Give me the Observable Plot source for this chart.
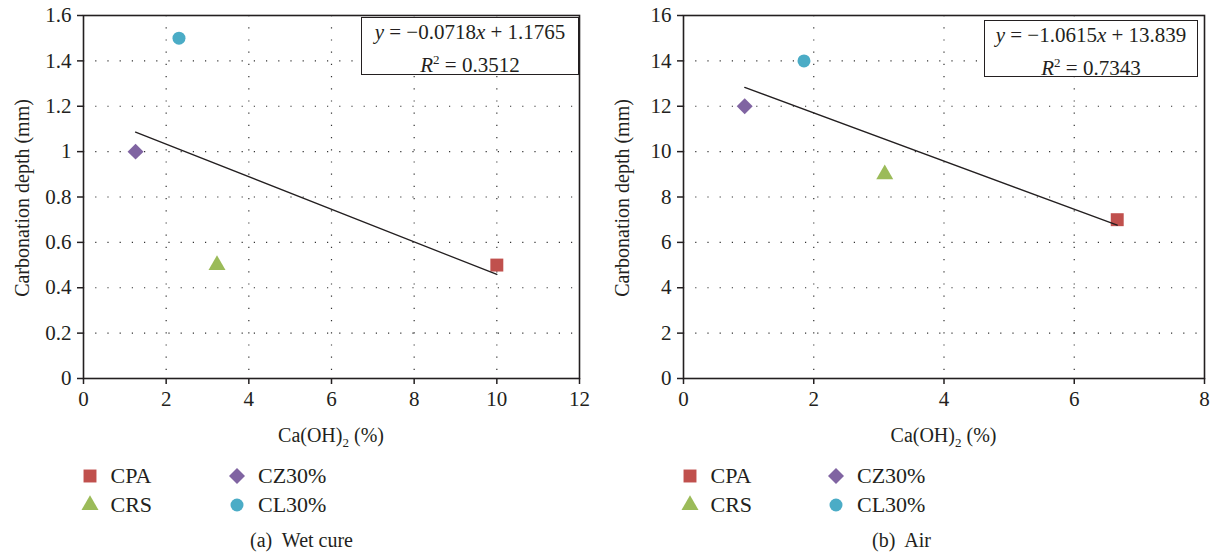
<!DOCTYPE html>
<html>
<head>
<meta charset="utf-8">
<script src="https://cdn.jsdelivr.net/npm/d3@7"></script>
<script src="https://cdn.jsdelivr.net/npm/@observablehq/plot@0.6"></script>
<style>
  html, body { margin: 0; padding: 0; background: #fff; }
  body { width: 1212px; height: 554px; position: relative; overflow: hidden;
         font-family: "Liberation Serif", "DejaVu Serif", serif; color: #231f20; }
  .panel { position: absolute; top: 0; height: 554px; }
  .panel svg { position: absolute; left: 0; top: 0; }
  .abs { position: absolute; white-space: nowrap; }
  .ylab { font-size: 20px; transform: translate(-50%, -50%) rotate(-90deg); }
  .xlab { font-size: 20px; transform: translate(-50%, -50%); }
  .eq { background: #fff; border: 1.5px solid #231f20; box-sizing: border-box;
        font-size: 21px; text-align: center; line-height: 27px; padding-top: 1px; }
  .leg { font-size: 22px; transform: translateY(-50%); }
  .cap { font-size: 20px; transform: translate(-50%, -50%); }
  sub { font-size: 13px; vertical-align: -5px; }
  sup { font-size: 13px; vertical-align: 8px; }
</style>
</head>
<body>
<script>
// ---- data ----
const categories = ["CPA", "CRS", "CZ30%", "CL30%"];
const colors = ["#C0504D", "#9BBB59", "#8064A2", "#4BACC6"];
const symbols = ["square", "triangle", "diamond2", "circle"];
const radii = [7.3, 6.3, 7.2, 6.5];

const wetX = [10.0, 3.23, 1.26, 2.31];
const wetY = [0.5, 0.5, 1.0, 1.5];
const airX = [6.66, 3.09, 0.94, 1.85];
const airY = [7, 9, 12, 14];

const wetXTicks = [0, 2, 4, 6, 8, 10, 12];
const wetYTicks = [0, 0.2, 0.4, 0.6, 0.8, 1, 1.2, 1.4, 1.6];
const airXTicks = [0, 2, 4, 6, 8];
const airYTicks = [0, 2, 4, 6, 8, 10, 12, 14, 16];

const wetEq = ["−0.0718", "1.1765", "0.3512"];
const airEq = ["−1.0615", "13.839", "0.7343"];

const yTitle = "Carbonation depth (mm)";
const captions = ["(a)\u00a0 Wet cure", "(b)\u00a0 Air"];

// ---- drawing ----
function el(tag, cls, html, style) {
  const e = document.createElement(tag);
  if (cls) e.className = cls;
  if (html != null) e.innerHTML = html;
  Object.assign(e.style, style || {});
  return e;
}

function panel({left, width, marginRight, xs, ys, xTicks, yTicks, eq, eqBox, caption, legendX}) {
  const div = el("div", "panel", null, {left: left + "px", width: width + "px"});
  document.body.appendChild(div);
  const data = categories.map((c, i) => ({cat: c, x: xs[i], y: ys[i]}));
  const ink = "#231f20";
  const grid = {stroke: "#333", strokeOpacity: 1, strokeWidth: 1.2, strokeDasharray: "1.2,11"};
  const font = '"Liberation Serif", "Times New Roman", serif';
  const label = {fill: ink, stroke: null, fontSize: 21, fontFamily: font, text: d => String(d)};
  const chart = Plot.plot({
    width, height: 450,
    marginLeft: 83, marginRight, marginTop: 15, marginBottom: 72,
    style: {fontFamily: font, color: ink, background: "transparent", overflow: "visible"},
    x: {domain: [xTicks[0], xTicks[xTicks.length - 1]]},
    y: {domain: [yTicks[0], yTicks[yTicks.length - 1]]},
    symbol: {domain: categories, range: symbols},
    color: {domain: categories, range: colors},
    marks: [
      Plot.gridX(xTicks.slice(1, -1), grid),
      Plot.gridY(yTicks.slice(1, -1), grid),
      Plot.frame({stroke: ink, strokeWidth: 1.6}),
      Plot.axisX(xTicks, {tickSize: 6, label: null, stroke: ink, strokeWidth: 1.5, tickFormat: () => ""}),
      Plot.axisY(yTicks, {tickSize: 6, label: null, stroke: ink, strokeWidth: 1.5, tickFormat: () => ""}),
      Plot.text(xTicks, {...label, x: d => d, frameAnchor: "bottom", dy: 27}),
      Plot.text(yTicks, {...label, y: d => d, frameAnchor: "left", textAnchor: "end", dx: -12}),
      ...categories.map((c, i) => Plot.dot(data.filter(d => d.cat === c),
        {x: "x", y: "y", symbol: "cat", fill: "cat", r: radii[i]})),
      Plot.linearRegressionY(data, {x: "x", y: "y", ci: 0, stroke: ink, strokeWidth: 1.3})
    ]
  });
  div.appendChild(chart);

  const plotCx = 83 + (width - 83 - marginRight) / 2;
  div.appendChild(el("div", "abs ylab", yTitle, {left: "22px", top: "198px"}));
  div.appendChild(el("div", "abs xlab", "Ca(OH)<sub>2</sub> (%)", {left: plotCx + "px", top: "437px"}));

  div.appendChild(el("div", "abs eq",
    `<i>y</i> = ${eq[0]}<i>x</i> + ${eq[1]}<br><i>R</i><sup>2</sup> = ${eq[2]}`,
    {left: eqBox[0] + "px", top: eqBox[1] + "px", width: eqBox[2] + "px", height: eqBox[3] + "px"}));

  // legend: two columns
  const rowsY = [476, 505];
  categories.forEach((c, i) => {
    const col = Math.floor(i / 2), row = i % 2;
    const cx = legendX[col];
    const cy = rowsY[row];
    const s = d3.create("svg").attr("width", 24).attr("height", 24)
      .style("position", "absolute").style("left", (cx - 12) + "px").style("top", (cy - 12) + "px");
    const symType = {square: d3.symbolSquare, triangle: d3.symbolTriangle, diamond2: d3.symbolDiamond2, circle: d3.symbolCircle}[symbols[i]];
    s.append("path").attr("transform", "translate(12,12)")
      .attr("d", d3.symbol(symType, Math.PI * radii[i] * radii[i])()).attr("fill", colors[i]);
    div.appendChild(s.node());
    div.appendChild(el("div", "abs leg", c, {left: (cx + 21) + "px", top: cy + "px"}));
  });

  div.appendChild(el("div", "abs cap", caption, {left: (legendX[0] + 212) + "px", top: "540px"}));
}

panel({left: 0, width: 600, marginRight: 21, xs: wetX, ys: wetY, xTicks: wetXTicks, yTicks: wetYTicks,
  eq: wetEq, eqBox: [361, 17, 218, 58], caption: captions[0], legendX: [89.5, 237]});
panel({left: 600, width: 612, marginRight: 8, xs: airX, ys: airY, xTicks: airXTicks, yTicks: airYTicks,
  eq: airEq, eqBox: [384, 20, 214, 57], caption: captions[1], legendX: [89.5, 236]});
</script>
</body>
</html>
